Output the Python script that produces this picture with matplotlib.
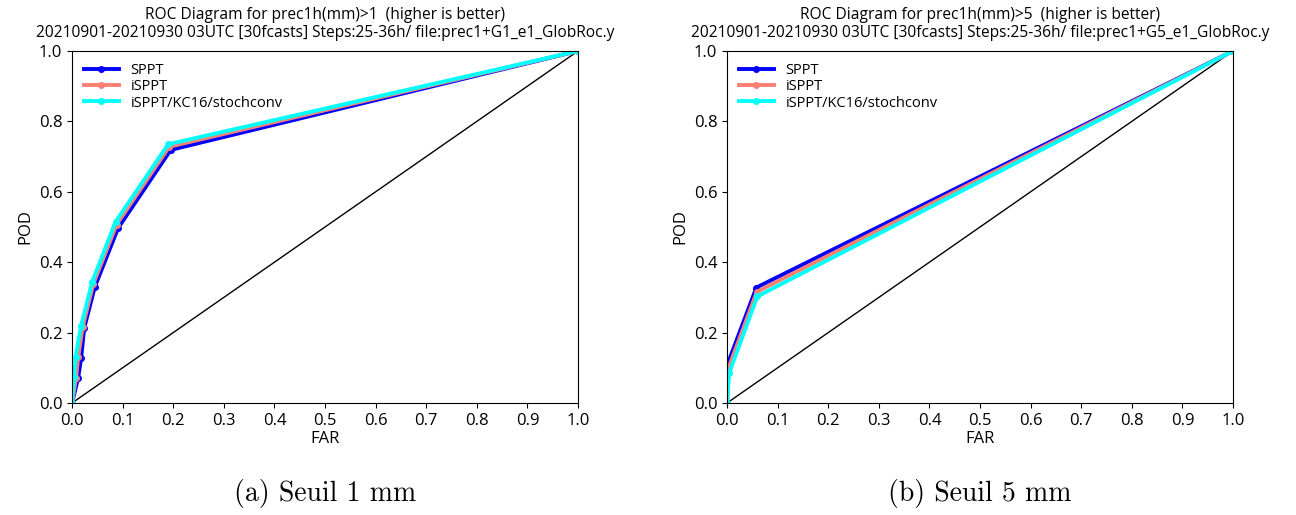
import matplotlib
matplotlib.use("Agg")
import matplotlib.pyplot as plt
import numpy as np

plt.rcParams['font.family'] = ['Open Sans', 'DejaVu Sans']

labels = ["SPPT", "iSPPT", "iSPPT/KC16/stochconv"]
colors = ["#0000ff", "#fa8072", "#00ffff"]

# Panel (a): threshold 1 mm
far_a = [
    [0, 0.012, 0.018, 0.024, 0.045, 0.091, 0.195, 1.0],
    [0, 0.008, 0.012, 0.021, 0.042, 0.088, 0.192, 1.0],
    [0, 0.004, 0.007, 0.018, 0.040, 0.086, 0.190, 1.0],
]
pod_a = [
    [0, 0.071, 0.128, 0.213, 0.330, 0.497, 0.719, 1.0],
    [0, 0.072, 0.130, 0.216, 0.338, 0.507, 0.728, 1.0],
    [0, 0.074, 0.132, 0.220, 0.345, 0.515, 0.735, 1.0],
]
# Panel (b): threshold 5 mm
far_b = [
    [0, 0.002, 0.058, 1.0],
    [0, 0.003, 0.059, 1.0],
    [0, 0.004, 0.060, 1.0],
]
pod_b = [
    [0, 0.114, 0.328, 1.0],
    [0, 0.100, 0.316, 1.0],
    [0, 0.085, 0.303, 1.0],
]

titles = [
    "ROC Diagram for prec1h(mm)>1  (higher is better)\n20210901-20210930 03UTC [30fcasts] Steps:25-36h/ file:prec1+G1_e1_GlobRoc.y",
    "ROC Diagram for prec1h(mm)>5  (higher is better)\n20210901-20210930 03UTC [30fcasts] Steps:25-36h/ file:prec1+G5_e1_GlobRoc.y",
]
captions = ["(a) Seuil 1 mm", "(b) Seuil 5 mm"]
ticks = [round(0.1 * i, 1) for i in range(11)]
yticks = [0.0, 0.2, 0.4, 0.6, 0.8, 1.0]

fig = plt.figure(figsize=(12.96, 5.15), dpi=100)
positions = [[0.0556, 0.2175, 0.3904, 0.6835], [0.561, 0.2175, 0.3904, 0.6835]]
datasets = [(far_a, pod_a), (far_b, pod_b)]

for k in range(2):
    ax = fig.add_axes(positions[k])
    fx, py = datasets[k]
    ax.plot([0, 1], [0, 1], color="black", lw=1.0)
    for i in range(3):
        ax.plot(fx[i], py[i], color=colors[i], lw=2.8, marker="o", ms=4,
                label=labels[i])
    ax.set_xlim(0, 1)
    ax.set_ylim(0, 1)
    ax.set_xticks(ticks)
    ax.set_yticks(yticks)
    ax.set_xticklabels([f"{t:.1f}" for t in ticks])
    ax.set_yticklabels([f"{t:.1f}" for t in yticks])
    ax.tick_params(labelsize=12)
    ax.set_xlabel("FAR", fontsize=12, labelpad=2)
    ax.set_ylabel("POD", fontsize=12, labelpad=4)
    ax.set_title(titles[k], fontsize=11.2, pad=10, linespacing=1.15)
    ax.legend(loc="upper left", frameon=False, fontsize=10.5, numpoints=1,
              handlelength=2.4, labelspacing=0.1, borderaxespad=0.4)
    fig.text(positions[k][0] + positions[k][2] / 2 + 0.0, 0.042, captions[k],
             ha="center", va="center", fontsize=20, family="cmr10")

fig.savefig("out.png", dpi=100, facecolor="white")
